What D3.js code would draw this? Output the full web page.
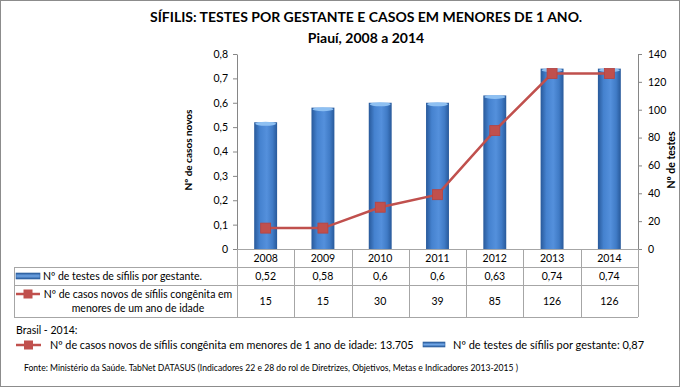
<!DOCTYPE html>
<html>
<head>
<meta charset="utf-8">
<script src="https://cdn.jsdelivr.net/npm/d3@7"></script>
<style>
  body { margin: 0; background: #fff; }
  svg text { font-family: Lato, "Open Sans", sans-serif; fill: #000; }
</style>
</head>
<body>
<div id="chartDiv"></div>
<script>
// data
var years = ["2008", "2009", "2010", "2011", "2012", "2013", "2014"];
var testesPorGestante = [0.52, 0.58, 0.6, 0.6, 0.63, 0.74, 0.74];
var testesLabels = ["0,52", "0,58", "0,6", "0,6", "0,63", "0,74", "0,74"];
var casosNovos = [15, 15, 30, 39, 85, 126, 126];
var leftTicks = [0, 0.1, 0.2, 0.3, 0.4, 0.5, 0.6, 0.7, 0.8];
var rightTicks = [0, 20, 40, 60, 80, 100, 120, 140];

var titleLines = ["SÍFILIS: TESTES POR GESTANTE E CASOS EM MENORES DE 1 ANO.", "Piauí, 2008 a 2014"];
var barLabel = "Nº de testes de sífilis por gestante.";
var lineLabel = ["Nº de casos novos de sífilis congênita em", "menores de um ano de idade"];
var brasilTitle = "Brasil - 2014:";
var brasilLine = "Nº de casos novos de sífilis congênita em menores de 1 ano de idade: 13.705";
var brasilBar = "Nº de testes de sífilis por gestante: 0,87";
var fonte = "Fonte: Ministério da Saúde. TabNet DATASUS (Indicadores  22 e 28 do rol de Diretrizes, Objetivos, Metas e Indicadores 2013-2015 )";

;(function() {

	var width = 680;
	var height = 387;
	var plot = { left: 237, right: 638, top: 54, bottom: 249 };
	var tbl = { left: 14, headBottom: 267, row1Bottom: 285, row2Bottom: 317 };
	var red = "#c0504d";
	var gridGray = "#a6a6a6";

	var svg = d3.select("#chartDiv").append("svg")
		.attr("width", width)
		.attr("height", height);

	var defs = svg.append("defs");
	var grad = defs.append("linearGradient").attr("id", "barGrad")
		.attr("x1", "0%").attr("x2", "100%").attr("y1", "0%").attr("y2", "0%");
	grad.append("stop").attr("offset", "0%").attr("stop-color", "#28599a");
	grad.append("stop").attr("offset", "25%").attr("stop-color", "#4582cf");
	grad.append("stop").attr("offset", "55%").attr("stop-color", "#5490dc");
	grad.append("stop").attr("offset", "80%").attr("stop-color", "#407bc6");
	grad.append("stop").attr("offset", "100%").attr("stop-color", "#28599a");

	var gradV = defs.append("linearGradient").attr("id", "barGradV")
		.attr("x1", "0%").attr("x2", "0%").attr("y1", "0%").attr("y2", "100%");
	gradV.append("stop").attr("offset", "0%").attr("stop-color", "#2a5c9c");
	gradV.append("stop").attr("offset", "50%").attr("stop-color", "#6fa5e6");
	gradV.append("stop").attr("offset", "100%").attr("stop-color", "#2a5c9c");

	// frame
	svg.append("rect")
		.attr("x", 0.5).attr("y", 0.5)
		.attr("width", width - 1).attr("height", height - 1)
		.attr("fill", "#fff")
		.attr("stroke", "#8c8c8c");

	// title
	svg.selectAll(".title")
		.data(titleLines)
		.enter().append("text")
		.attr("class", "title")
		.attr("x", 366)
		.attr("y", function(d, i) { return 22 + i * 21; })
		.attr("text-anchor", "middle")
		.style("font-size", "14px")
		.style("font-weight", "bold")
		.text(function(d) { return d; });

	// scales
	var x = d3.scaleBand()
		.domain(years)
		.range([plot.left, plot.right])
		.padding(0);

	var yLeft = d3.scaleLinear()
		.domain([0, 0.8])
		.range([plot.bottom, plot.top]);

	var yRight = d3.scaleLinear()
		.domain([0, 140])
		.range([plot.bottom, plot.top]);

	// axes
	var leftAxis = d3.axisLeft(yLeft)
		.tickValues(leftTicks)
		.tickSize(4)
		.tickSizeOuter(0)
		.tickPadding(5)
		.tickFormat(function(d) { return d3.format(".1~f")(d).replace(".", ","); });

	var rightAxis = d3.axisRight(yRight)
		.tickValues(rightTicks)
		.tickSize(4)
		.tickSizeOuter(0)
		.tickPadding(6);

	var gl = svg.append("g")
		.attr("transform", "translate(" + plot.left + ",0)")
		.call(leftAxis);
	var gr = svg.append("g")
		.attr("transform", "translate(" + plot.right + ",0)")
		.call(rightAxis);

	[gl, gr].forEach(function(g) {
		g.selectAll("path, line").attr("stroke", "#868686");
		g.selectAll("text").style("font-size", "10.5px").style("font-family", "Lato, sans-serif").attr("fill", "#000");
	});

	// axis titles
	svg.append("text")
		.attr("text-anchor", "middle")
		.attr("transform", "translate(192,150) rotate(-90)")
		.style("font-size", "10px")
		.style("font-weight", "bold")
		.text("Nº de casos novos");

	svg.append("text")
		.attr("text-anchor", "middle")
		.attr("transform", "translate(675,160) rotate(-90)")
		.style("font-size", "10.5px")
		.style("font-weight", "bold")
		.text("Nº de testes");

	// bars
	var barW = x.bandwidth() * 0.4;
	var bars = svg.append("g").selectAll(".bar")
		.data(testesPorGestante)
		.enter().append("g")
		.attr("class", "bar");

	bars.append("rect")
		.attr("x", function(d, i) { return x(years[i]) + (x.bandwidth() - barW) / 2; })
		.attr("y", function(d) { return yLeft(d); })
		.attr("width", barW)
		.attr("height", function(d) { return plot.bottom - yLeft(d); })
		.attr("fill", "url(#barGrad)");

	bars.append("ellipse")
		.attr("cx", function(d, i) { return x(years[i]) + x.bandwidth() / 2; })
		.attr("cy", function(d) { return yLeft(d) + 1.5; })
		.attr("rx", barW / 2 - 1)
		.attr("ry", 2)
		.attr("fill", "#8ec0f2");

	// line
	var line = d3.line()
		.x(function(d, i) { return x(years[i]) + x.bandwidth() / 2; })
		.y(function(d) { return yRight(d); });

	svg.append("path")
		.datum(casosNovos)
		.attr("d", line)
		.attr("fill", "none")
		.attr("stroke", red)
		.attr("stroke-width", 2.5);

	svg.append("g").selectAll(".marker")
		.data(casosNovos)
		.enter().append("rect")
		.attr("class", "marker")
		.attr("x", function(d, i) { return x(years[i]) + x.bandwidth() / 2 - 5; })
		.attr("y", function(d) { return yRight(d) - 5; })
		.attr("width", 10)
		.attr("height", 10)
		.attr("fill", red)
		.attr("stroke", "#b8423f")
		.attr("stroke-width", 0.8);

	// data table
	var table = svg.append("g").attr("class", "table");
	var hl = [
		[plot.left, plot.right, plot.bottom],
		[tbl.left, plot.right, tbl.headBottom],
		[tbl.left, plot.right, tbl.row1Bottom],
		[tbl.left, plot.right, tbl.row2Bottom]
	];
	table.selectAll(".hline")
		.data(hl)
		.enter().append("line")
		.attr("x1", function(d) { return d[0]; })
		.attr("x2", function(d) { return d[1]; })
		.attr("y1", function(d) { return d[2] + 0.5; })
		.attr("y2", function(d) { return d[2] + 0.5; })
		.attr("stroke", gridGray);

	var colEdges = years.map(function(y) { return x(y); }).concat([plot.right]);
	table.selectAll(".vline")
		.data(colEdges)
		.enter().append("line")
		.attr("x1", function(d) { return Math.round(d) + 0.5; })
		.attr("x2", function(d) { return Math.round(d) + 0.5; })
		.attr("y1", plot.bottom)
		.attr("y2", tbl.row2Bottom)
		.attr("stroke", gridGray);

	table.append("line")
		.attr("x1", tbl.left + 0.5).attr("x2", tbl.left + 0.5)
		.attr("y1", tbl.headBottom).attr("y2", tbl.row2Bottom)
		.attr("stroke", gridGray);

	var cellText = function(cls, arr, yy) {
		table.selectAll("." + cls)
			.data(arr)
			.enter().append("text")
			.attr("class", cls)
			.attr("x", function(d, i) { return x(years[i]) + x.bandwidth() / 2; })
			.attr("y", yy)
			.attr("text-anchor", "middle")
			.style("font-size", "10.5px")
			.text(function(d) { return d; });
	};
	cellText("yr", years, 262);
	cellText("v1", testesLabels, 280);
	cellText("v2", casosNovos, 305);

	// table legend keys
	table.append("rect")
		.attr("x", 16).attr("y", 273)
		.attr("width", 24).attr("height", 6)
		.attr("fill", "url(#barGradV)")
		.attr("stroke", "#2a5c9c").attr("stroke-width", 0.6);
	table.append("text")
		.attr("x", 43).attr("y", 280)
		.style("font-size", "10.5px")
		.text(barLabel);

	table.append("line")
		.attr("x1", 16).attr("x2", 40)
		.attr("y1", 294).attr("y2", 294)
		.attr("stroke", red).attr("stroke-width", 2.5);
	table.append("rect")
		.attr("x", 23.5).attr("y", 289.5)
		.attr("width", 9).attr("height", 9)
		.attr("fill", red);
	table.selectAll(".rowlab")
		.data(lineLabel)
		.enter().append("text")
		.attr("class", "rowlab")
		.attr("x", 138)
		.attr("y", function(d, i) { return 298 + i * 14; })
		.attr("text-anchor", "middle")
		.style("font-size", "10.5px")
		.text(function(d) { return d; });

	// Brasil legend
	svg.append("text")
		.attr("x", 16).attr("y", 334)
		.style("font-size", "10.5px")
		.text(brasilTitle);

	svg.append("line")
		.attr("x1", 16).attr("x2", 41)
		.attr("y1", 345).attr("y2", 345)
		.attr("stroke", red).attr("stroke-width", 2.5);
	svg.append("rect")
		.attr("x", 24).attr("y", 340.5)
		.attr("width", 9).attr("height", 9)
		.attr("fill", red);
	svg.append("text")
		.attr("x", 50).attr("y", 349)
		.style("font-size", "10.8px")
		.text(brasilLine);

	svg.append("rect")
		.attr("x", 423).attr("y", 342)
		.attr("width", 22).attr("height", 5)
		.attr("fill", "url(#barGradV)")
		.attr("stroke", "#2a5c9c").attr("stroke-width", 0.6);
	svg.append("text")
		.attr("x", 453).attr("y", 349)
		.style("font-size", "11px")
		.text(brasilBar);

	svg.append("text")
		.attr("x", 24).attr("y", 371)
		.attr("textLength", 494)
		.attr("lengthAdjust", "spacingAndGlyphs")
		.style("font-size", "8.5px")
		.text(fonte);

})();
</script>
</body>
</html>
